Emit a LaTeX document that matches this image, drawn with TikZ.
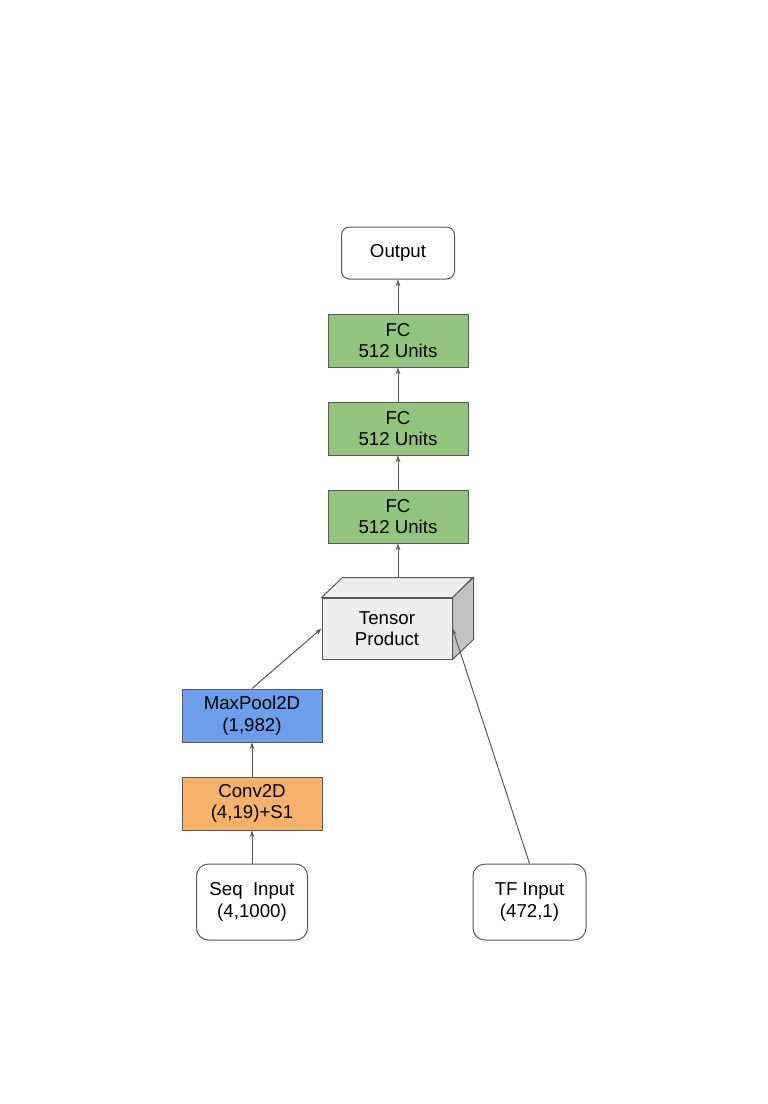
\documentclass[tikz,border=0pt]{standalone}
\usepackage{fontspec}
\setmainfont{Liberation Sans}
\usetikzlibrary{arrows.meta}
\definecolor{fcgreen}{HTML}{93C47D}
\definecolor{poolblue}{HTML}{6D9EEB}
\definecolor{convorange}{HTML}{F6B26B}
\definecolor{tpface}{HTML}{EEEEEE}
\definecolor{tpside}{HTML}{C2C2C2}
\definecolor{edgegray}{HTML}{595959}

\begin{document}
\begin{tikzpicture}[x=0.75pt,y=-0.75pt,
	every node/.style={font=\fontsize{14}{16}\selectfont, align=center, text=black},
	layer/.style={draw=edgegray, line width=0.75pt, minimum width=105pt, minimum height=39.75pt, inner sep=0pt},
	io/.style={draw=edgegray, line width=0.75pt, fill=white, inner sep=0pt, minimum height=57pt},
	arr/.style={draw=edgegray, line width=0.75pt, -{Stealth[length=5pt,width=3.5pt]}}]
			 \useasboundingbox (0,0) rectangle (768,1104);
			 % inputs
			 \node[io, rounded corners=9pt, minimum width=83.25pt] (seq) at (252,902) {Seq\ \ Input\\(4,1000)};
			 \node[io, rounded corners=9pt, minimum width=84.75pt] (tf) at (529.5,902) {TF Input\\(472,1)};
			 % conv branch
			 \node[layer, fill=convorange] (conv) at (252,803.5) {Conv2D\\(4,19)+S1};
			 \node[layer, fill=poolblue] (pool) at (252,715.5) {MaxPool2D\\(1,982)};
			 % tensor product box
			 \node[draw=edgegray, line width=0.75pt, fill=tpface, minimum width=97.5pt, minimum height=45.75pt, inner sep=0pt] (tp) at (387,628.5) {Tensor\\Product};
			 \draw[edgegray, line width=0.75pt, fill=tpface] (tp.north west) -- ++(21,-20) -- ++(130,0) -- (tp.north east) -- cycle;
			 \draw[edgegray, line width=0.75pt, fill=tpside] (tp.north east) -- ++(21,-20) -- ++(0,62) -- (tp.south east) -- cycle;
			 \coordinate (tptop) at ([shift={(11,-20)}]tp.north);
			 % fully connected stack
			 \node[layer, fill=fcgreen] (fc3) at (398,516.5) {FC\\512 Units};
			 \node[layer, fill=fcgreen] (fc2) at (398,428.5) {FC\\512 Units};
			 \node[layer, fill=fcgreen] (fc1) at (398,340.5) {FC\\512 Units};
			 \node[io, rounded corners=6pt, minimum width=84.75pt, minimum height=39pt] (out) at (398,253) {Output};
			 % connectors
			 \draw[arr] (seq) -- (conv);
			 \draw[arr] (conv) -- (pool);
			 \draw[arr] (pool.north) -- (tp.west);
			 \draw[arr] (tf.north) -- (tp.east);
			 \draw[arr] (tptop) -- (fc3.south);
			 \draw[arr] (fc3) -- (fc2);
			 \draw[arr] (fc2) -- (fc1);
			 \draw[arr] (fc1) -- (out);
		 \end{tikzpicture}
\end{document}
